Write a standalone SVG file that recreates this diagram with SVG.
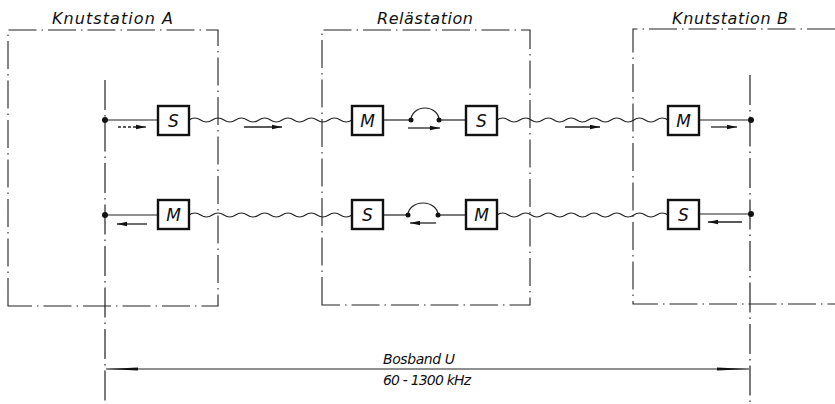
<svg xmlns="http://www.w3.org/2000/svg" width="835" height="404" viewBox="0 0 835 404">
<defs>
<style>
.frame{fill:none;stroke:#222;stroke-width:1.1;stroke-dasharray:28 5 1.5 5}
.axis{fill:none;stroke:#222;stroke-width:1.2;stroke-dasharray:30 5 1.5 5}
.box{fill:#fff;stroke:#111;stroke-width:2.4}
.ln{fill:none;stroke:#222;stroke-width:1.2}
.wave{fill:none;stroke:#222;stroke-width:1.2}
.arr{fill:none;stroke:#222;stroke-width:1.3}
.dash{fill:none;stroke:#222;stroke-width:1.3;stroke-dasharray:3 2}
.dot{fill:#111}
.lbl{font-family:"DejaVu Sans","Liberation Sans",sans-serif;font-style:oblique;font-size:16px;fill:#111}
.blt{font-family:"DejaVu Sans","Liberation Sans",sans-serif;font-style:oblique;font-size:17px;fill:#111;text-anchor:middle}
.dim{font-family:"DejaVu Sans","Liberation Sans",sans-serif;font-style:oblique;font-size:14px;fill:#111}
</style>
<marker id="ah" viewBox="0 0 10 6" refX="10" refY="3" markerWidth="10" markerHeight="6" markerUnits="userSpaceOnUse" orient="auto">
<path d="M0,0.8 L10,3 L0,5.2 Z" fill="#111"/>
</marker>
<marker id="dh" viewBox="0 0 32 5" refX="32" refY="2.5" markerWidth="32" markerHeight="5" markerUnits="userSpaceOnUse" orient="auto">
<path d="M0,1 L32,2.5 L0,4 Z" fill="#111"/>
</marker>
</defs>
<rect width="835" height="404" fill="#fff"/>

<g id="stationA">
<path class="frame" d="M8,306 V30 H218 V306 Z"/>
<text class="lbl" x="52" y="24" textLength="121" lengthAdjust="spacing">Knutstation A</text>
</g>
<g id="relay">
<path class="frame" d="M322,305 V30 H530 V305 Z"/>
<text class="lbl" x="377" y="24" textLength="96" lengthAdjust="spacing">Relästation</text>
</g>
<g id="stationB">
<path class="frame" d="M835,29 H633 V304 H835"/>
<text class="lbl" x="672" y="24" textLength="116" lengthAdjust="spacing">Knutstation B</text>
</g>

<g id="connectors">
<path class="axis" d="M105,80 V404"/>
<path class="axis" d="M750,75 V404"/>
<path class="ln" d="M105,120 H158"/>
<path class="wave" d="M189,120 q5.82,-4 11.64,0 t11.64,0 t11.64,0 t11.64,0 t11.64,0 t11.64,0 t11.64,0 t11.64,0 t11.64,0 t11.64,0 t11.64,0 t11.64,0 t11.64,0 t11.64,0"/>
<path class="ln" d="M383,120 H411"/>
<path class="ln" d="M411,120 A14,12 0 0 1 439,120"/>
<path class="ln" d="M439,120 H466"/>
<path class="wave" d="M497,120 q5.7,-4 11.4,0 t11.4,0 t11.4,0 t11.4,0 t11.4,0 t11.4,0 t11.4,0 t11.4,0 t11.4,0 t11.4,0 t11.4,0 t11.4,0 t11.4,0 t11.4,0 t11.4,0"/>
<path class="ln" d="M699,120 H751"/>
<circle class="dot" cx="105" cy="120" r="3"/>
<circle class="dot" cx="751" cy="120" r="3"/>
<circle class="dot" cx="411" cy="120" r="2.5"/>
<circle class="dot" cx="439" cy="120" r="2.5"/>
<path class="ln" d="M105,215 H158"/>
<path class="wave" d="M189,215 q5.82,-4 11.64,0 t11.64,0 t11.64,0 t11.64,0 t11.64,0 t11.64,0 t11.64,0 t11.64,0 t11.64,0 t11.64,0 t11.64,0 t11.64,0 t11.64,0 t11.64,0"/>
<path class="ln" d="M383,215 H408"/>
<path class="ln" d="M408,215 A15,12 0 0 1 438,215"/>
<path class="ln" d="M438,215 H466"/>
<path class="wave" d="M497,215 q5.7,-4 11.4,0 t11.4,0 t11.4,0 t11.4,0 t11.4,0 t11.4,0 t11.4,0 t11.4,0 t11.4,0 t11.4,0 t11.4,0 t11.4,0 t11.4,0 t11.4,0 t11.4,0"/>
<path class="ln" d="M699,214 H751"/>
<circle class="dot" cx="105" cy="215" r="3"/>
<circle class="dot" cx="751" cy="214" r="3"/>
<circle class="dot" cx="408" cy="215" r="2.5"/>
<circle class="dot" cx="438" cy="215" r="2.5"/>
<path class="dash" d="M118,127 H137"/>
<path class="arr" d="M136,127 H146" marker-end="url(#ah)"/>
<path class="arr" d="M244,127 H282" marker-end="url(#ah)"/>
<path class="arr" d="M408,128 H440" marker-end="url(#ah)"/>
<path class="arr" d="M565,127 H600" marker-end="url(#ah)"/>
<path class="arr" d="M711,127 H737" marker-end="url(#ah)"/>
<path class="arr" d="M147,224 H117" marker-end="url(#ah)"/>
<path class="arr" d="M436,223 H410" marker-end="url(#ah)"/>
<path class="arr" d="M742,222 H708" marker-end="url(#ah)"/>
<path class="ln" d="M140,369 H715" stroke-width="1"/>
<path class="ln" d="M140,369 H106" marker-end="url(#dh)"/>
<path class="ln" d="M715,369 H749" marker-end="url(#dh)"/>
</g>

<g id="boxS1"><rect class="box" x="158" y="106" width="31" height="29"/><text class="blt" x="173.5" y="126.5">S</text></g>
<g id="boxM1"><rect class="box" x="352" y="106" width="31" height="29"/><text class="blt" x="367.5" y="126.5">M</text></g>
<g id="boxS2"><rect class="box" x="466" y="106" width="31" height="29"/><text class="blt" x="481.5" y="126.5">S</text></g>
<g id="boxM2"><rect class="box" x="668" y="106" width="31" height="29"/><text class="blt" x="683.5" y="126.5">M</text></g>
<g id="boxM3"><rect class="box" x="158" y="200" width="31" height="29"/><text class="blt" x="173.5" y="220.5">M</text></g>
<g id="boxS3"><rect class="box" x="352" y="200" width="31" height="29"/><text class="blt" x="367.5" y="220.5">S</text></g>
<g id="boxM4"><rect class="box" x="466" y="200" width="31" height="29"/><text class="blt" x="481.5" y="220.5">M</text></g>
<g id="boxS4"><rect class="box" x="668" y="200" width="31" height="29"/><text class="blt" x="683.5" y="220.5">S</text></g>

<g id="dimLabel">
<text class="dim" x="383" y="364" textLength="72" lengthAdjust="spacing">Bosband U</text>
<text class="dim" x="383" y="385" textLength="88" lengthAdjust="spacing">60 - 1300 kHz</text>
</g>
</svg>
